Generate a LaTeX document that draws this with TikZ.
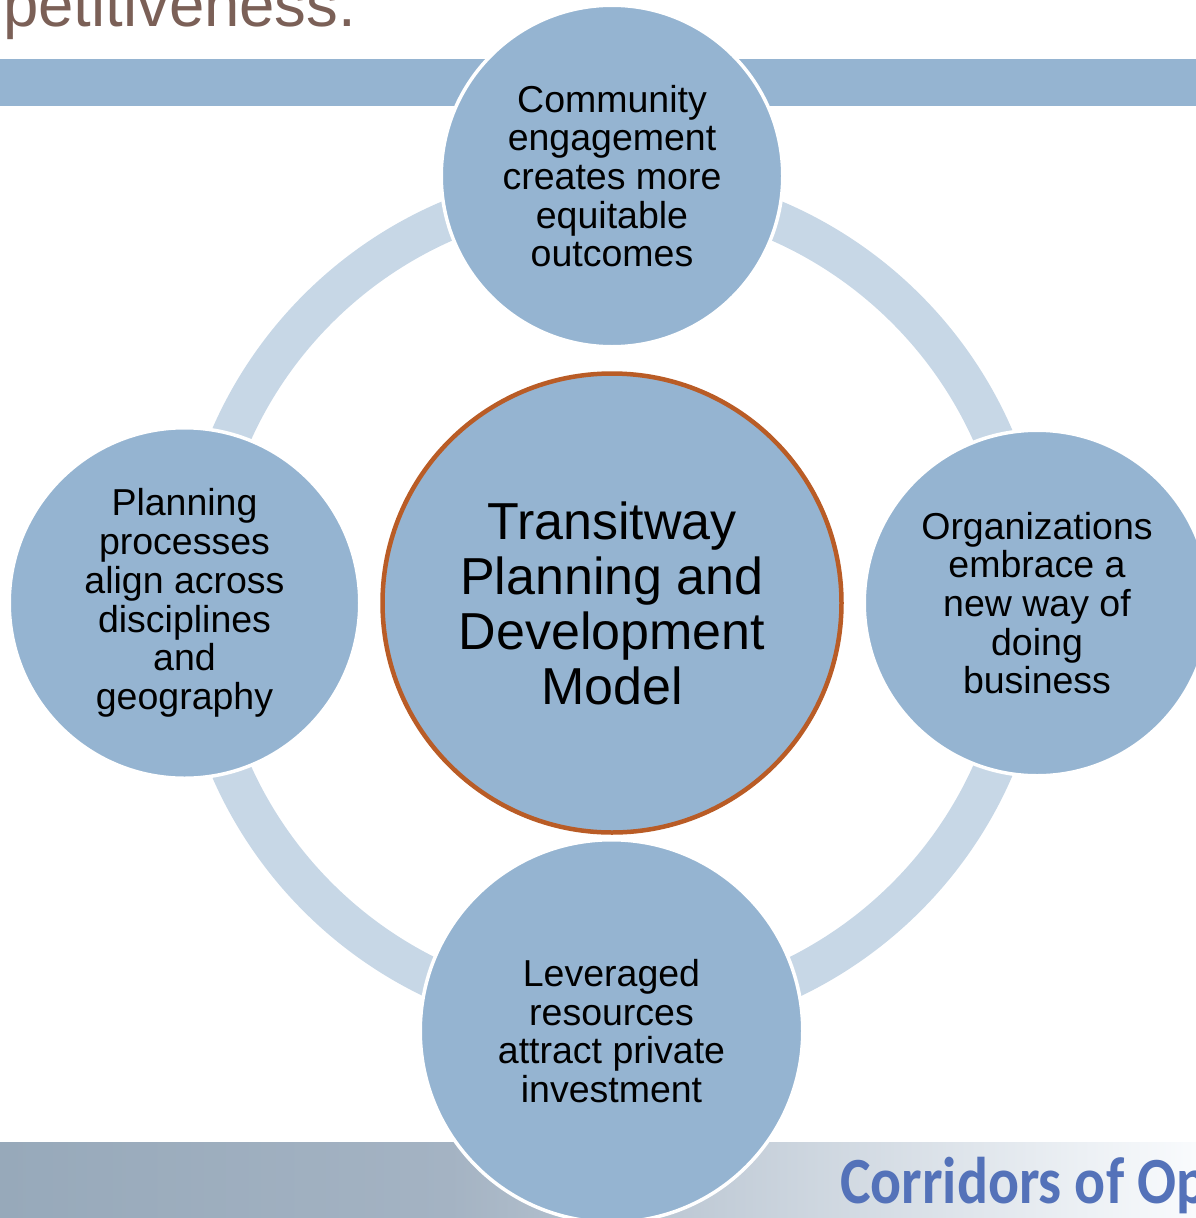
\documentclass[tikz,border=0pt]{standalone}
\usepackage{fontspec}
\setmainfont{Liberation Sans}
\newfontfamily\corrfont{Carlito}
\usetikzlibrary{positioning}
\definecolor{circblue}{RGB}{149,180,209}
\definecolor{ringblue}{RGB}{199,215,230}
\definecolor{rimorange}{RGB}{185,92,38}
\definecolor{titlebrown}{RGB}{123,96,87}
\definecolor{corrblue}{RGB}{84,114,185}
\definecolor{barleft}{RGB}{151,169,186}
\definecolor{barmid}{RGB}{164,179,195}
\definecolor{barright}{RGB}{249,251,253}
\def\ringrad{416}

\begin{document}
\begin{tikzpicture}[x=1pt,y=1pt]
	\tikzstyle{step circle}=[circle,fill=circblue,draw=white,line width=3.5pt,inner sep=0pt,align=center,font=\fontsize{37.5}{38.7}\selectfont]
	\tikzstyle{core circle}=[circle,fill=circblue,draw=rimorange,line width=4.5pt,inner sep=0pt,align=center,font=\fontsize{52}{55}\selectfont]
	\tikzstyle{ring}=[draw=ringblue,line width=40pt]
	\tikzstyle{slide text}=[anchor=base west,inner sep=0pt]

	\useasboundingbox (0,0) rectangle (1196,-1218);
	\clip (0,0) rectangle (1196,-1218);

	% Bars of the slide behind the diagram
	\fill[circblue] (0,-59) rectangle (1196,-106);
	\shade[left color=barleft,right color=barmid] (0,-1142) rectangle (451,-1218);
	\shade[left color=barmid,right color=barright] (450,-1142) rectangle (1196,-1218);

	% Slide text, cut by the page edges
	\node[slide text,text=titlebrown,font=\fontsize{63.5}{70}\selectfont] (title) at (3,-27) {petitiveness.};
	\node[slide text,text=corrblue,font=\corrfont\bfseries\fontsize{66}{70}\selectfont] (footer) at (840,-1203) {\scalebox{0.875}[1]{Corridors of Op}};

	% The ring that joins the outer circles
	\coordinate (hub) at (612,-603);
	\draw[ring] (hub) circle (\ringrad);

	% Centre circle
	\node[core circle,minimum size=459pt] (model) at (hub) {Transitway\\Planning and\\Development\\Model};

	% Outer circles
	\node[step circle,minimum size=341.5pt] (engage) at (612,-176) {Community\\engagement\\creates more\\equitable\\outcomes};
	\node[step circle,minimum size=345.5pt] (business) at (1037,-603) {Organizations\\embrace a\\new way of\\doing\\business};
	\node[step circle,minimum size=382.5pt] (invest) at (611.5,-1031) {Leveraged\\resources\\attract private\\investment};
	\node[step circle,minimum size=350.5pt] (align) at (184.5,-603) {Planning\\processes\\align across\\disciplines\\and\\geography};

\end{tikzpicture}
\end{document}
